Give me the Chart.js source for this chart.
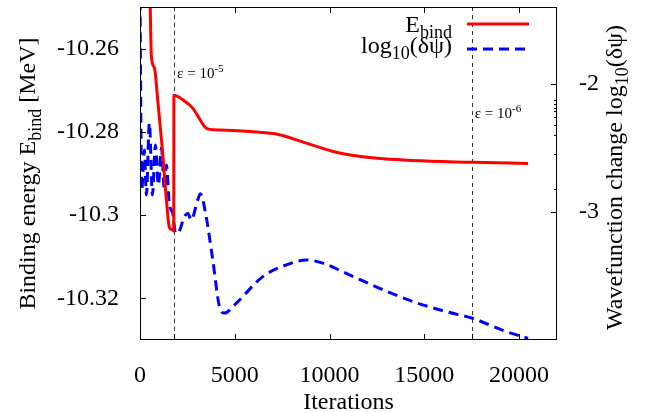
<!DOCTYPE html>
<html>
<head>
<meta charset="utf-8">
<script src="https://cdn.jsdelivr.net/npm/chart.js@4/dist/chart.umd.min.js"></script>
<style>
  body { margin: 0; background: #fff; }
  canvas { display: block; }
</style>
</head>
<body>
<canvas id="grafico" width="645" height="412"></canvas>
<script>
// dados
const ebindIter = [520, 602, 760, 935, 1183, 1394, 1552, 1700, 1780, 1790, 2255, 2783, 3226, 3400, 3575, 3900, 4546, 6304, 7360, 8770, 10354, 11759, 14399, 17535, 20471];
const ebindVal = [-10.245, -10.262, -10.2646, -10.2723, -10.2843, -10.2963, -10.303, -10.3035, -10.3038, -10.2712, -10.2723, -10.2743, -10.2775, -10.2787, -10.2793, -10.2795, -10.2796, -10.2801, -10.2807, -10.2827, -10.2849, -10.2860, -10.2869, -10.2873, -10.2876];

const dpsiIter = [0, 90, 232, 338, 496, 655, 813, 971, 1130, 1288, 1394, 1552, 1727, 1869, 1991, 2344, 2519, 2698, 3047, 3189, 3490, 3839, 4192, 4456, 5074, 6479, 7714, 8770, 9647, 10882, 12640, 14399, 16162, 17535, 19330, 20471];
const dpsiVal = [-1.35, -2.83, -2.516, -2.867, -2.305, -2.867, -2.477, -2.789, -2.5, -2.828, -2.633, -2.945, -3.008, -3.164, -3.166, -3.037, -3.010, -3.0625, -2.906, -2.859, -3.037, -3.375, -3.74, -3.79, -3.713, -3.505, -3.414, -3.375, -3.40, -3.48, -3.596, -3.70, -3.779, -3.83, -3.935, -3.987];

const xTicks = [0, 5000, 10000, 15000, 20000];
const yTicks = [-10.32, -10.3, -10.28, -10.26];
const y2Ticks = [-3, -2];
const y2Minor = [-2.13, -2.16, -2.19, -2.21, -2.26, -2.32, -2.40, -2.55, -2.82];

// limiares de convergência
const epsIter = [1800, 17500];
const epsExp = ['-5', '-6'];

const SERIF = '"Liberation Serif", "DejaVu Serif", serif';
const FS = 24;

function richText(ctx, parts, x, y, align, size) {
    let w = 0;
    parts.forEach(p => {
        ctx.font = (p.sub || p.sup ? size * 0.75 : size) + 'px ' + SERIF;
        p.w = ctx.measureText(p.t).width;
        w += p.w;
    });
    let cx = align === 'right' ? x - w : align === 'center' ? x - w / 2 : x;
    ctx.textAlign = 'left';
    parts.forEach(p => {
        ctx.font = (p.sub || p.sup ? size * 0.75 : size) + 'px ' + SERIF;
        let dy = p.sub ? size * 0.25 : p.sup ? -size * 0.4 : 0;
        ctx.fillText(p.t, cx, y + dy);
        cx += p.w;
    });
}

// sem margem automática das escalas
function semPadding(s) {
    s.paddingTop = 0;
    s.paddingBottom = 0;
    s.paddingLeft = 0;
    s.paddingRight = 0;
}

const decoracao = {
    id: 'decoracao',
    beforeDatasetsDraw(chart) {
        const { ctx, chartArea: a, scales: { x } } = chart;
        ctx.save();
        ctx.strokeStyle = '#333';
        ctx.lineWidth = 1;
        ctx.setLineDash([4, 4]);
        epsIter.forEach(v => {
            const px = Math.round(x.getPixelForValue(v)) + 0.5;
            ctx.beginPath();
            ctx.moveTo(px, a.top);
            ctx.lineTo(px, a.bottom);
            ctx.stroke();
        });
        ctx.restore();
    },
    afterDraw(chart) {
        const { ctx, chartArea: a, scales: { x, y, y2 } } = chart;
        ctx.save();
        ctx.strokeStyle = '#000';
        ctx.lineWidth = 1;
        ctx.strokeRect(a.left + 0.5, a.top + 0.5, a.right - a.left - 1, a.bottom - a.top - 1);

        ctx.beginPath();
        xTicks.forEach(v => {
            const px = Math.round(x.getPixelForValue(v)) + 0.5;
            ctx.moveTo(px, a.bottom); ctx.lineTo(px, a.bottom - 6);
            ctx.moveTo(px, a.top); ctx.lineTo(px, a.top + 6);
        });
        epsIter.forEach(v => {
            const px = Math.round(x.getPixelForValue(v)) + 0.5;
            ctx.moveTo(px, a.bottom); ctx.lineTo(px, a.bottom - 6);
        });
        yTicks.forEach(v => {
            const py = Math.round(y.getPixelForValue(v)) + 0.5;
            ctx.moveTo(a.left, py); ctx.lineTo(a.left + 6, py);
        });
        y2Ticks.forEach(v => {
            const py = Math.round(y2.getPixelForValue(v)) + 0.5;
            ctx.moveTo(a.right, py); ctx.lineTo(a.right - 6, py);
        });
        y2Minor.forEach(v => {
            const py = Math.round(y2.getPixelForValue(v)) + 0.5;
            ctx.moveTo(a.right, py); ctx.lineTo(a.right - 3, py);
        });
        ctx.stroke();

        ctx.fillStyle = '#000';
        ctx.textBaseline = 'alphabetic';

        // anotações ε
        const epsY = [78, 118];
        epsIter.forEach((v, i) => {
            const px = x.getPixelForValue(v) + 3;
            richText(ctx, [{ t: 'ε = 10' }, { t: epsExp[i], sup: true }], px, epsY[i], 'left', 15);
        });

        // legenda
        richText(ctx, [{ t: 'E' }, { t: 'bind', sub: true }], 452, 32, 'right', FS);
        richText(ctx, [{ t: 'log' }, { t: '10', sub: true }, { t: '(δψ)' }], 452, 53, 'right', FS);
        ctx.lineWidth = 3;
        ctx.strokeStyle = '#ff0000';
        ctx.beginPath(); ctx.moveTo(467, 24); ctx.lineTo(529, 24); ctx.stroke();
        ctx.strokeStyle = '#0000ff';
        ctx.setLineDash([10, 6]);
        ctx.beginPath(); ctx.moveTo(467, 49); ctx.lineTo(529, 49); ctx.stroke();
        ctx.setLineDash([]);

        // títulos dos eixos
        richText(ctx, [{ t: 'Iterations' }], (a.left + a.right) / 2, 409, 'center', FS);

        ctx.save();
        ctx.translate(35, (a.top + a.bottom) / 2);
        ctx.rotate(-Math.PI / 2);
        richText(ctx, [{ t: 'Binding energy E' }, { t: 'bind', sub: true }, { t: ' [MeV]' }], 0, 0, 'center', FS);
        ctx.restore();

        ctx.save();
        ctx.translate(622, (a.top + a.bottom) / 2 + 4);
        ctx.rotate(-Math.PI / 2);
        richText(ctx, [{ t: 'Wavefunction change log' }, { t: '10', sub: true }, { t: '(δψ)' }], 0, 0, 'center', FS);
        ctx.restore();

        ctx.restore();
    }
};

const tickFont = { family: SERIF, size: FS };

const ctxGrafico = document.getElementById('grafico').getContext('2d');
const grafico = new Chart(ctxGrafico, {
    type: 'line',
    data: {
        datasets: [{
            label: 'E_bind',
            data: ebindIter.map((v, i) => ({ x: v, y: ebindVal[i] })),
            yAxisID: 'y',
            borderColor: '#ff0000',
            borderWidth: 3,
            pointRadius: 0,
            fill: false,
            cubicInterpolationMode: 'monotone'
        }, {
            label: 'log10(δψ)',
            data: dpsiIter.map((v, i) => ({ x: v, y: dpsiVal[i] })),
            yAxisID: 'y2',
            borderColor: '#0000ff',
            borderWidth: 3,
            borderDash: [10, 6],
            pointRadius: 0,
            fill: false,
            cubicInterpolationMode: 'monotone'
        }]
    },
    options: {
        responsive: false,
        animation: false,
        layout: { padding: { top: 7, left: 0, right: 0, bottom: 0 } },
        plugins: {
            legend: { display: false },
            tooltip: { enabled: false }
        },
        scales: {
            x: {
                type: 'linear',
                min: 0,
                max: 22000,
                afterFit: s => { s.height = 72; semPadding(s); },
                afterBuildTicks: s => { s.ticks = xTicks.map(v => ({ value: v })); },
                grid: { display: false },
                border: { display: false },
                ticks: { font: tickFont, color: '#000', padding: 13, maxRotation: 0, autoSkip: false, callback: v => String(v) }
            },
            y: {
                position: 'left',
                min: -10.33,
                max: -10.25,
                afterFit: s => { s.width = 140; semPadding(s); },
                afterBuildTicks: s => { s.ticks = yTicks.map(v => ({ value: v })); },
                grid: { display: false },
                border: { display: false },
                ticks: { font: tickFont, color: '#000', padding: 13, autoSkip: false, callback: v => String(+v.toFixed(2)) }
            },
            y2: {
                position: 'right',
                min: -4,
                max: -1.4,
                afterFit: s => { s.width = 88; semPadding(s); },
                afterBuildTicks: s => { s.ticks = y2Ticks.map(v => ({ value: v })); },
                grid: { display: false },
                border: { display: false },
                ticks: { font: tickFont, color: '#000', padding: 14, autoSkip: false, callback: v => String(v) }
            }
        }
    },
    plugins: [decoracao]
});
</script>
</body>
</html>
